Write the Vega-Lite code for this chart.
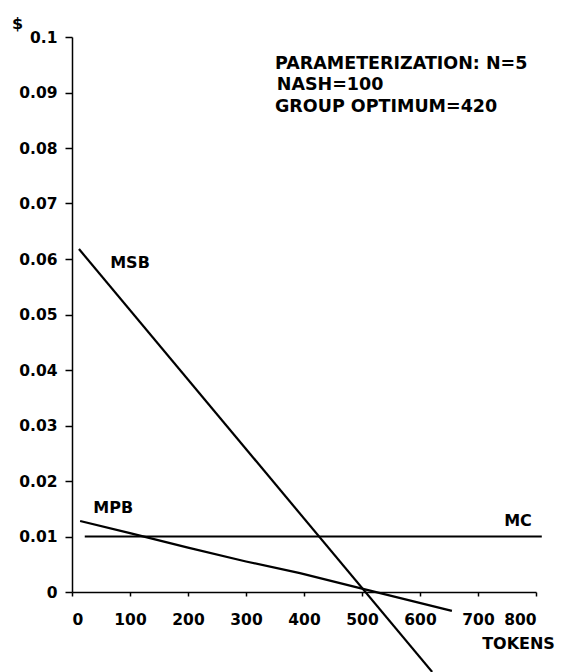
{
  "$schema": "https://vega.github.io/schema/vega-lite/v6.json",
  "autosize": "none",
  "padding": {"left": 72, "top": 37, "right": 30, "bottom": 80},
  "width": 464,
  "height": 555,
  "background": "white",
  "config": {
    "view": {"stroke": null},
    "font": "DejaVu Sans",
    "axis": {
      "grid": false,
      "domainColor": "black",
      "domainWidth": 1.5,
      "tickColor": "black",
      "tickWidth": 1.5,
      "labelFont": "DejaVu Sans",
      "labelFontWeight": "bold",
      "labelFontSize": 15.5,
      "labelColor": "black",
      "titleFont": "DejaVu Sans",
      "titleFontWeight": "bold",
      "titleFontSize": 16,
      "titleColor": "black"
    }
  },
  "datasets": {
    "curves": [
      {"series": "MSB", "tokens": 12, "value": 0.0618},
      {"series": "MSB", "tokens": 621, "value": -0.0144},
      {"series": "MPB", "tokens": 14, "value": 0.0128},
      {"series": "MPB", "tokens": 100, "value": 0.0106},
      {"series": "MPB", "tokens": 200, "value": 0.0080},
      {"series": "MPB", "tokens": 300, "value": 0.0055},
      {"series": "MPB", "tokens": 393, "value": 0.0034},
      {"series": "MPB", "tokens": 500, "value": 0.0006},
      {"series": "MPB", "tokens": 655, "value": -0.0034},
      {"series": "MC", "tokens": 22, "value": 0.01},
      {"series": "MC", "tokens": 810, "value": 0.01}
    ],
    "labels": [
      {"label": "MSB", "tokens": 100, "value": 0.0593},
      {"label": "MPB", "tokens": 71, "value": 0.0151},
      {"label": "MC", "tokens": 769, "value": 0.0128}
    ],
    "notes": [
      {"label": "PARAMETERIZATION: N=5", "tokens": 350, "value": 0.0952},
      {"label": "NASH=100", "tokens": 353, "value": 0.0913},
      {"label": "GROUP OPTIMUM=420", "tokens": 350, "value": 0.0874}
    ]
  },
  "layer": [
    {
      "data": {"name": "curves"},
      "mark": {"type": "line", "color": "black", "strokeWidth": 2.2, "clip": false},
      "encoding": {
        "x": {
          "field": "tokens", "type": "quantitative",
          "scale": {"domain": [0, 800], "nice": false, "zero": false},
          "axis": {
            "values": [0, 100, 200, 300, 400, 500, 600, 700, 800],
            "title": "TOKENS",
            "titleX": 446, "titleY": 51,
            "titleAlign": "center", "titleBaseline": "middle",
            "tickSize": 4, "labelPadding": 16
          }
        },
        "y": {
          "field": "value", "type": "quantitative",
          "scale": {"domain": [0, 0.1], "nice": false, "zero": false},
          "axis": {
            "values": [0, 0.01, 0.02, 0.03, 0.04, 0.05, 0.06, 0.07, 0.08, 0.09, 0.1],
            "format": "~g",
            "title": "$",
            "titleAngle": 0,
            "titleX": -55, "titleY": -14,
            "titleAlign": "center", "titleBaseline": "middle",
            "tickSize": 7, "labelPadding": 8
          }
        },
        "detail": {"field": "series"},
        "order": {"field": "tokens"}
      }
    },
    {
      "data": {"name": "labels"},
      "mark": {"type": "text", "font": "DejaVu Sans", "fontWeight": "bold", "fontSize": 16, "color": "black", "align": "center", "baseline": "middle"},
      "encoding": {
        "x": {"field": "tokens", "type": "quantitative"},
        "y": {"field": "value", "type": "quantitative"},
        "text": {"field": "label"}
      }
    },
    {
      "data": {"name": "notes"},
      "mark": {"type": "text", "font": "DejaVu Sans", "fontWeight": "bold", "fontSize": 17.5, "color": "black", "align": "left", "baseline": "middle"},
      "encoding": {
        "x": {"field": "tokens", "type": "quantitative"},
        "y": {"field": "value", "type": "quantitative"},
        "text": {"field": "label"}
      }
    }
  ]
}
